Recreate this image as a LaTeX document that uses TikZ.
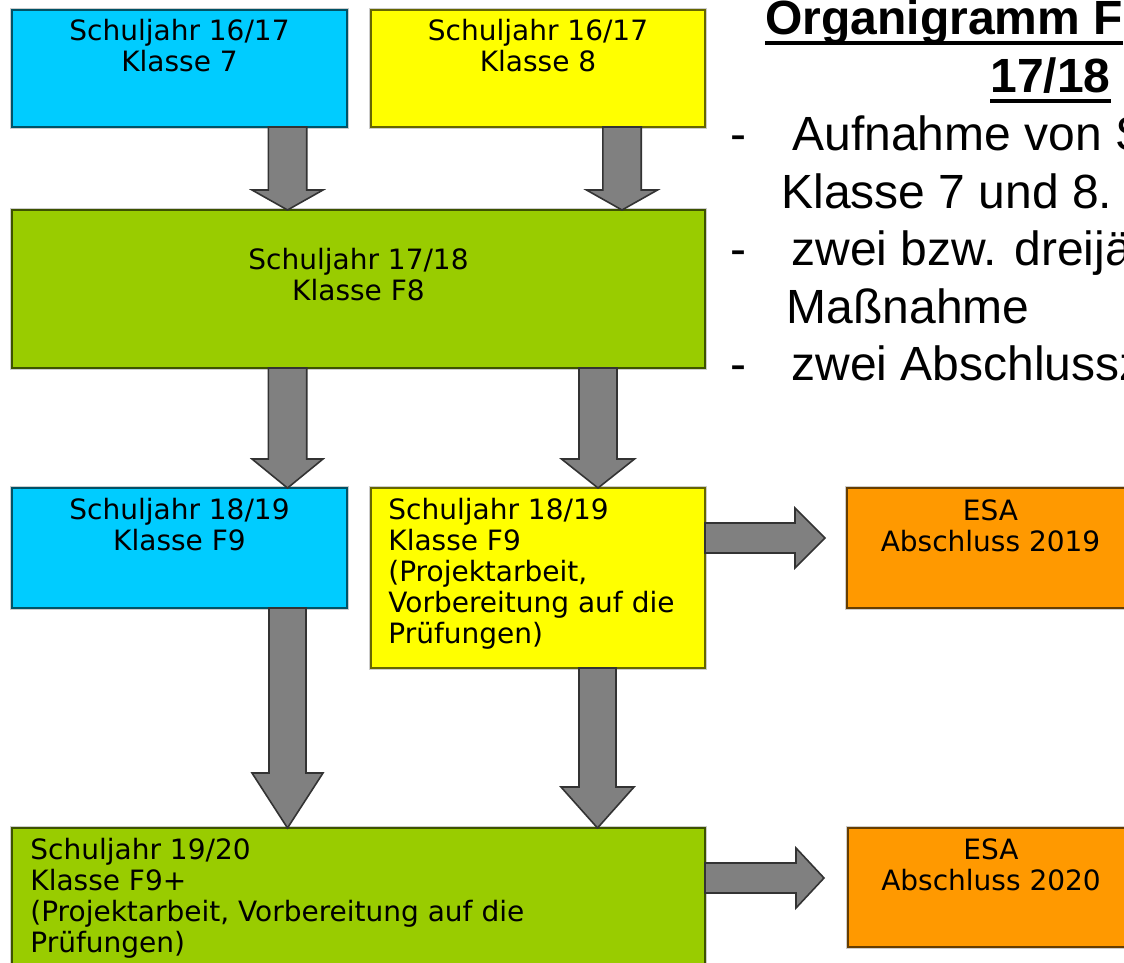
\documentclass[tikz,border=0pt]{standalone}
\usepackage{fontspec}
\setmainfont{Liberation Sans}
\newfontfamily\kastenfont{DejaVu Sans}
\usetikzlibrary{calc}
\definecolor{hellblau}{RGB}{0,204,255}
\definecolor{gelb}{RGB}{255,255,0}
\definecolor{gruen}{RGB}{153,204,0}
\definecolor{esaorange}{RGB}{255,153,0}
\definecolor{pfeilgrau}{RGB}{128,128,128}

% underline at a fixed depth
\newcommand{\unterstr}[1]{\setbox0\hbox{#1}\rlap{\rule[-4.9pt]{\wd0}{1.75pt}}\box0}

% block arrow: from, to, half shaft, half head, head length
\newcommand{\pfeil}[5]{%
  \coordinate (pa) at (#1);
  \coordinate (pb) at (#2);
  \coordinate (pk) at ($(pb)!#5!(pa)$);
  \filldraw[blockpfeil] ($(pa)!#3!90:(pb)$) -- ($(pk)!#3!-90:(pa)$) -- ($(pk)!#4!-90:(pa)$)
    -- (pb) -- ($(pk)!#4!90:(pa)$) -- ($(pk)!#3!90:(pa)$) -- ($(pa)!#3!-90:(pb)$) -- cycle;
}

\begin{document}
\begin{tikzpicture}[x=0.5pt, y=-0.5pt,
  kasten/.style={draw=#1!40!black, fill=#1, line width=0.9pt, inner sep=0pt, outer sep=0pt,
    anchor=north west, preaction={draw=black!20, line width=2.4pt}},
  kastentext/.style={font=\kastenfont\fontsize{14pt}{15.5pt}\selectfont, inner sep=0pt, align=center, anchor=north},
  blockpfeil/.style={fill=pfeilgrau, draw=black!80, line width=0.8pt, line join=miter},
  titel/.style={font=\bfseries\fontsize{24pt}{28.8pt}\selectfont, inner sep=0pt, anchor=base west},
  punkt/.style={font=\fontsize{24pt}{28.8pt}\selectfont, inner sep=0pt, anchor=base west}]
  \useasboundingbox (0,0) rectangle (1124,963);
  \clip (0,0) rectangle (1124,963);

  % boxes
  \node[kasten=hellblau, minimum width=167.5pt, minimum height=58.5pt] (k7) at (12,10) {};
  \node[kasten=gelb, minimum width=167pt, minimum height=58.5pt] (k8) at (371,10) {};
  \node[kasten=gruen, minimum width=346.5pt, minimum height=79pt] (f8) at (12,210) {};
  \node[kasten=hellblau, minimum width=167.5pt, minimum height=60pt] (f9a) at (12,488) {};
  \node[kasten=gelb, minimum width=167pt, minimum height=90pt] (f9b) at (371,488) {};
  \node[kasten=esaorange, minimum width=143.5pt, minimum height=60pt] (esa19) at (847,488) {};
  \node[kasten=gruen, minimum width=346.5pt, minimum height=76pt] (f9p) at (12,828) {};
  \node[kasten=esaorange, minimum width=143pt, minimum height=59.5pt] (esa20) at (848,828) {};

  % box texts
  \node[kastentext] (t7) at ($(k7.north)+(0,9)$) {Schuljahr 16/17\\Klasse 7};
  \node[kastentext] (t8) at ($(k8.north)+(0,9)$) {Schuljahr 16/17\\Klasse 8};
  \node[kastentext] (tf8) at ($(f8.north)+(0,38)$) {Schuljahr 17/18\\Klasse F8};
  \node[kastentext] (tf9a) at ($(f9a.north)+(0,10)$) {Schuljahr 18/19\\Klasse F9};
  \node[kastentext, anchor=north west, align=left] (tf9b) at ($(f9b.north west)+(17,10)$)
    {Schuljahr 18/19\\Klasse F9\\(Projektarbeit,\\Vorbereitung auf die\\Prüfungen)};
  \node[kastentext] (tesa19) at ($(esa19.north)+(0,11.5)$) {ESA\\Abschluss 2019};
  \node[kastentext, anchor=north west, align=left] (tf9p) at ($(f9p.north west)+(18,10)$)
    {Schuljahr 19/20\\Klasse F9+\\(Projektarbeit, Vorbereitung auf die\\Prüfungen)};
  \node[kastentext] (tesa20) at ($(esa20.north)+(0,10.5)$) {ESA\\Abschluss 2020};

  % arrow columns and rows
  \coordinate (sA) at (287.5,0);
  \coordinate (sB) at (622,0);
  \coordinate (sC) at (598,0);
  \coordinate (sD) at (597.5,0);
  \coordinate (zA) at (0,538);
  \coordinate (zB) at (0,878);
  \coordinate (e19) at (825,538);
  \coordinate (e20) at (824,878);

  % arrows
  \pfeil{k7.south -| sA}{f8.north -| sA}{9.6pt}{17.75pt}{10pt}
  \pfeil{k8.south -| sB}{f8.north -| sB}{9.6pt}{17.75pt}{10pt}
  \pfeil{f8.south -| sA}{f9a.north -| sA}{9.6pt}{17.75pt}{14.5pt}
  \pfeil{f8.south -| sC}{f9b.north -| sC}{9.5pt}{18.25pt}{14.5pt}
  \pfeil{f9a.south -| sA}{f9p.north -| sA}{9.25pt}{17.75pt}{27.5pt}
  \pfeil{f9b.south -| sD}{f9p.north -| sD}{9.25pt}{18.25pt}{20.5pt}
  \pfeil{f9b.east |- zA}{e19}{7.5pt}{15pt}{15pt}
  \pfeil{f9p.east |- zB}{e20}{7.5pt}{15pt}{14pt}

  % title and notes
  \node[titel] (titelA) at (765,35) {\unterstr{Organigramm F}};
  \node[titel] (titelB) at (990,93) {\unterstr{17/18}};
  \node[punkt] (s1) at (730,150) {-};
  \node[punkt] (p1) at (792,150) {Aufnahme von S};
  \node[punkt] (p1b) at (781,208) {Klasse 7 und 8.};
  \node[punkt] (s2) at (730,265) {-};
  \node[punkt] (p2) at (791,265) {zwei bzw. dreijä};
  \node[punkt] (p2b) at (786.5,323) {Maßnahme};
  \node[punkt] (s3) at (730,380) {-};
  \node[punkt] (p3) at (791,380) {zwei Abschlussz};
\end{tikzpicture}
\end{document}
